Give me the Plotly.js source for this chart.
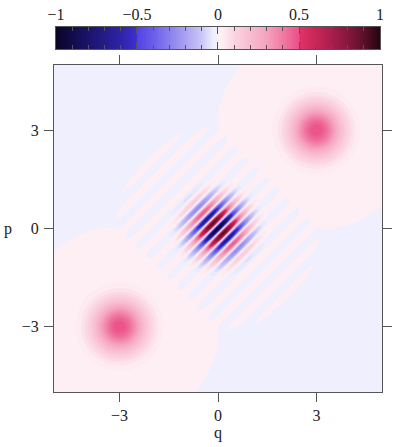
<!DOCTYPE html>
<html>
<head>
<meta charset="utf-8">
<script src="https://cdn.plot.ly/plotly-3.0.1.min.js"></script>
<style>
  html, body { margin: 0; padding: 0; background: #fff; }
  #chart { width: 393px; height: 447px; }
</style>
</head>
<body>
<div id="chart"></div>
<script>
/* Wigner function of a cat state: two coherent blobs + interference fringes.
   Values (centres, peak heights, width, fringe sign). */

// --- data ---
const blobQ = [3, -3];          // blob centres, q
const blobP = [3, -3];          // blob centres, p
const blobPeak = [0.5, 0.5];    // peak height of each blob
const fringePeak = -1;          // value at the origin (dark blue centre)
const hbar = 0.6;               // gaussian width  exp(-r^2 / hbar)
const pinkRadius = 3.05;        // radius where the pale pink halo ends

const qTicks = [-3, 0, 3];
const pTicks = [-3, 0, 3];
const cbTicks = [-1, -0.5, 0, 0.5, 1];
const cbMinor = [-0.9, -0.8, -0.7, -0.6, -0.4, -0.3, -0.2, -0.1,
                 0.1, 0.2, 0.3, 0.4, 0.6, 0.7, 0.8, 0.9];

// grid
const N = 241;
const qGrid = Array.from({ length: N }, (_, i) => -5 + (10 * i) / (N - 1));
const pGrid = qGrid.slice();

// below this the source data is numerical noise (shown lavender)
const floor = blobPeak[0] * Math.exp(-(pinkRadius * pinkRadius) / hbar);

function wigner(q, p) {
  let w = 0;
  for (let i = 0; i < blobQ.length; i++) {
    const dq = q - blobQ[i], dp = p - blobP[i];
    w += blobPeak[i] * Math.exp(-(dq * dq + dp * dp) / hbar);
  }
  const qm = (blobQ[0] + blobQ[1]) / 2, pm = (blobP[0] + blobP[1]) / 2;
  const sq = blobQ[0] - blobQ[1], sp = blobP[0] - blobP[1];
  const env = Math.exp(-((q - qm) ** 2 + (p - pm) ** 2) / hbar);
  w += fringePeak * env * Math.cos((sq * (p - pm) - sp * (q - qm)) / hbar);
  return w > floor ? w : Math.min(w, -floor);
}

const z = pGrid.map((p) => qGrid.map((q) => wigner(q, p)));

// colour strip values
const cbValues = Array.from({ length: 401 }, (_, i) => -1 + i / 200);

// palette  (value in [-1,1] -> colour)
const pal = [
  [-1.0, "#0a0425"], [-0.9, "#120c4a"], [-0.8, "#1a146a"], [-0.7, "#231c88"],
  [-0.6, "#2e23a8"], [-0.505, "#3d2fd0"], [-0.495, "#5243e6"], [-0.4, "#6a5ee9"],
  [-0.3, "#8a80ee"], [-0.2, "#aaa3f2"], [-0.1, "#cbc6f7"], [-0.03, "#efeefc"],
  [-0.005, "#f1f0fd"], [0.005, "#fdf0f4"], [0.03, "#fdeef3"], [0.1, "#fbd4e1"],
  [0.2, "#f8bcd0"], [0.3, "#f5a2bf"], [0.4, "#f07aa3"], [0.495, "#eb5288"],
  [0.505, "#e13268"], [0.6, "#c82758"], [0.7, "#a81f4c"], [0.8, "#86173c"],
  [0.9, "#5c0f28"], [1.0, "#220510"],
];
const colorscale = pal.map(([v, c]) => [(v + 1) / 2, c]);

const FONT = { family: "'Liberation Serif', 'Times New Roman', serif", size: 16, color: "#222" };
const LINE = "#555";

const traces = [
  {
    type: "contour",
    x: qGrid, y: pGrid, z: z,
    colorscale: colorscale,
    zmin: -1, zmax: 1,
    autocontour: false,
    contours: { start: -1, end: 1, size: 0.025, coloring: "fill", showlines: false },
    line: { width: 0 },
    showscale: false,
    hoverinfo: "skip",
    xaxis: "x", yaxis: "y",
  },
  {
    type: "heatmap",
    x: cbValues, z: [cbValues],
    colorscale: colorscale,
    zmin: -1, zmax: 1,
    showscale: false,
    hoverinfo: "skip",
    xaxis: "x2", yaxis: "y2",
  },
];

const mainAxis = {
  range: [-5, 5],
  ticks: "outside", ticklen: 9, tickwidth: 1, tickcolor: LINE,
  showline: true, linecolor: LINE, linewidth: 1, mirror: "ticks",
  showgrid: false, zeroline: false, fixedrange: true,
};

const layout = {
  width: 393, height: 447,
  margin: { l: 54, r: 11, t: 27, b: 55 },
  paper_bgcolor: "#fff", plot_bgcolor: "#fff",
  font: FONT, showlegend: false,
  xaxis: { ...mainAxis, domain: [0, 1], anchor: "y", tickvals: qTicks,
           title: { text: "q", font: FONT, standoff: 2 } },
  yaxis: { ...mainAxis, domain: [0, 0.896], anchor: "x", tickvals: pTicks,
           ticklabelstandoff: 2 },
  xaxis2: {
    domain: [0.006, 0.994], anchor: "y2", side: "top", range: [-1, 1],
    tickvals: cbTicks, ticks: "inside", ticklen: 7, tickcolor: LINE,
    minor: { tickvals: cbMinor, ticks: "inside", ticklen: 4, tickcolor: LINE },
    showline: true, linecolor: LINE, mirror: "ticks",
    showgrid: false, zeroline: false, fixedrange: true,
  },
  yaxis2: {
    domain: [0.94, 1], anchor: "x2", range: [-0.5, 0.5],
    showticklabels: false, ticks: "", showline: true, linecolor: LINE, mirror: true,
    showgrid: false, zeroline: false, fixedrange: true,
  },
  annotations: [
    { text: "p", xref: "paper", yref: "paper", x: -0.14, y: 0.4466,
      showarrow: false, font: FONT, xanchor: "center", yanchor: "middle" },
  ],
};

Plotly.newPlot("chart", traces, layout, { displayModeBar: false, staticPlot: true });
</script>
</body>
</html>
